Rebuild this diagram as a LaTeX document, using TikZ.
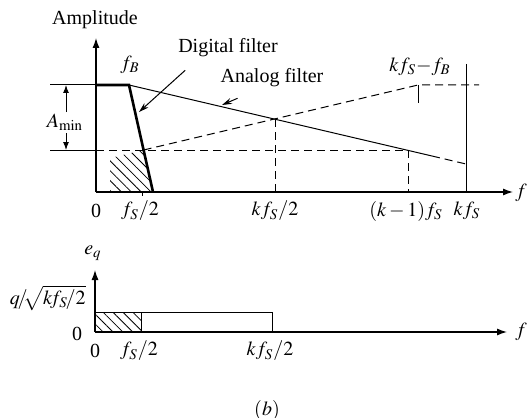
\documentclass[tikz,border=0pt]{standalone}
\usepackage{mathptmx}
\usepackage[no-math]{fontspec}
\setmainfont{Liberation Serif}
\usetikzlibrary{arrows.meta,patterns.meta}

\begin{document}
\begin{tikzpicture}[x=0.5pt,y=-0.5pt,
    axis/.style={line width=0.6pt,-{Latex[length=5pt,width=3.5pt]}},
    thinline/.style={line width=0.5pt},
    dashline/.style={line width=0.5pt,dash pattern=on 4pt off 2.5pt},
    hatch/.style={pattern={Lines[angle=-45,distance=3.5pt,line width=0.4pt]}},
    callout/.style={line width=0.5pt,-{Stealth[length=5pt,width=3pt]}},
    dimarrow/.style={line width=0.5pt,-{Latex[length=4pt,width=3pt]}}]
    \useasboundingbox (0,0) rectangle (529,417);
    % upper plot: filter responses
    \fill[hatch] (110,192) -- (110,158) -- (143.6,150) -- (153,192) -- cycle;
    \draw[axis] (96,192) -- (96,38);
    \draw[axis] (96,192) -- (513,192);
    \draw[thinline] (50,85) -- (96,85);
    \draw[thinline] (50,150) -- (96,150);
    \draw[dimarrow] (66,112) -- (66,85);
    \draw[dimarrow] (66,133) -- (66,150);
    \draw[dashline] (96,150) -- (408,150);
    \draw[dashline] (143.6,150) -- (418,85) -- (479,85);
    \draw[thinline] (418,85) -- (418,103);
    \draw[thinline] (129,85) -- (432,156);
    \draw[dashline] (432,156) -- (466,164);
    \draw[dashline] (275,119) -- (275,192);
    \draw[dashline] (408,150) -- (408,192);
    \draw[thinline] (466,64) -- (466,192);
    \draw[thinline] (142,192) -- (142,196);
    \draw[line width=1.3pt] (96,85) -- (129,85) -- (153,192);
    \node (amp) at (95,20) {Amplitude};
    \node (amin) at (65,122) {$A_{\mathrm{min}}$};
    \node (fb) at (130,65) {$f_B$};
    \node (kfsfb) at (420,67) {$kf_S{-}f_B$};
    \node (dig) at (228,48) {Digital filter};
    \node (ana) at (272,78) {Analog filter};
    \coordinate (digtip) at (139,112);
    \coordinate (anatip) at (222,105);
    \draw[callout] ([shift={(14,6)}]dig.south west) -- (digtip);
    \draw[callout] ([shift={(24,4)}]ana.south west) -- (anatip);
    \node (f1) at (521,193) {$f$};
    \node (t0) at (96,211) {0};
    \node (t1) at (140,211) {$f_S/2$};
    \node (t2) at (275,211) {$kf_S/2$};
    \node (t3) at (406,211) {$(k-1)f_S$};
    \node (t4) at (467,211) {$kf_S$};
    % lower plot: quantization noise
    \fill[hatch] (95,332) rectangle (141,312);
    \draw[thinline] (95,332) rectangle (272,312);
    \draw[thinline] (141,332) -- (141,312);
    \draw[axis] (95,332) -- (95,270);
    \draw[axis] (95,332) -- (507,332);
    \node (eq) at (93,253) {$e_q$};
    \node[anchor=east,inner sep=0pt] (qlev) at (86,298)
      {$q\!/\!\!\sqrt{k\!f_S\!/2}$};
    \node (z0) at (77,334) {0};
    \node (f2) at (521,332) {$f$};
    \node (b0) at (95,351) {0};
    \node (b1) at (139,351) {$f_S/2$};
    \node (b2) at (270,351) {$kf_S/2$};
    \node (cap) at (267,410) {$(b)$};
\end{tikzpicture}
\end{document}
